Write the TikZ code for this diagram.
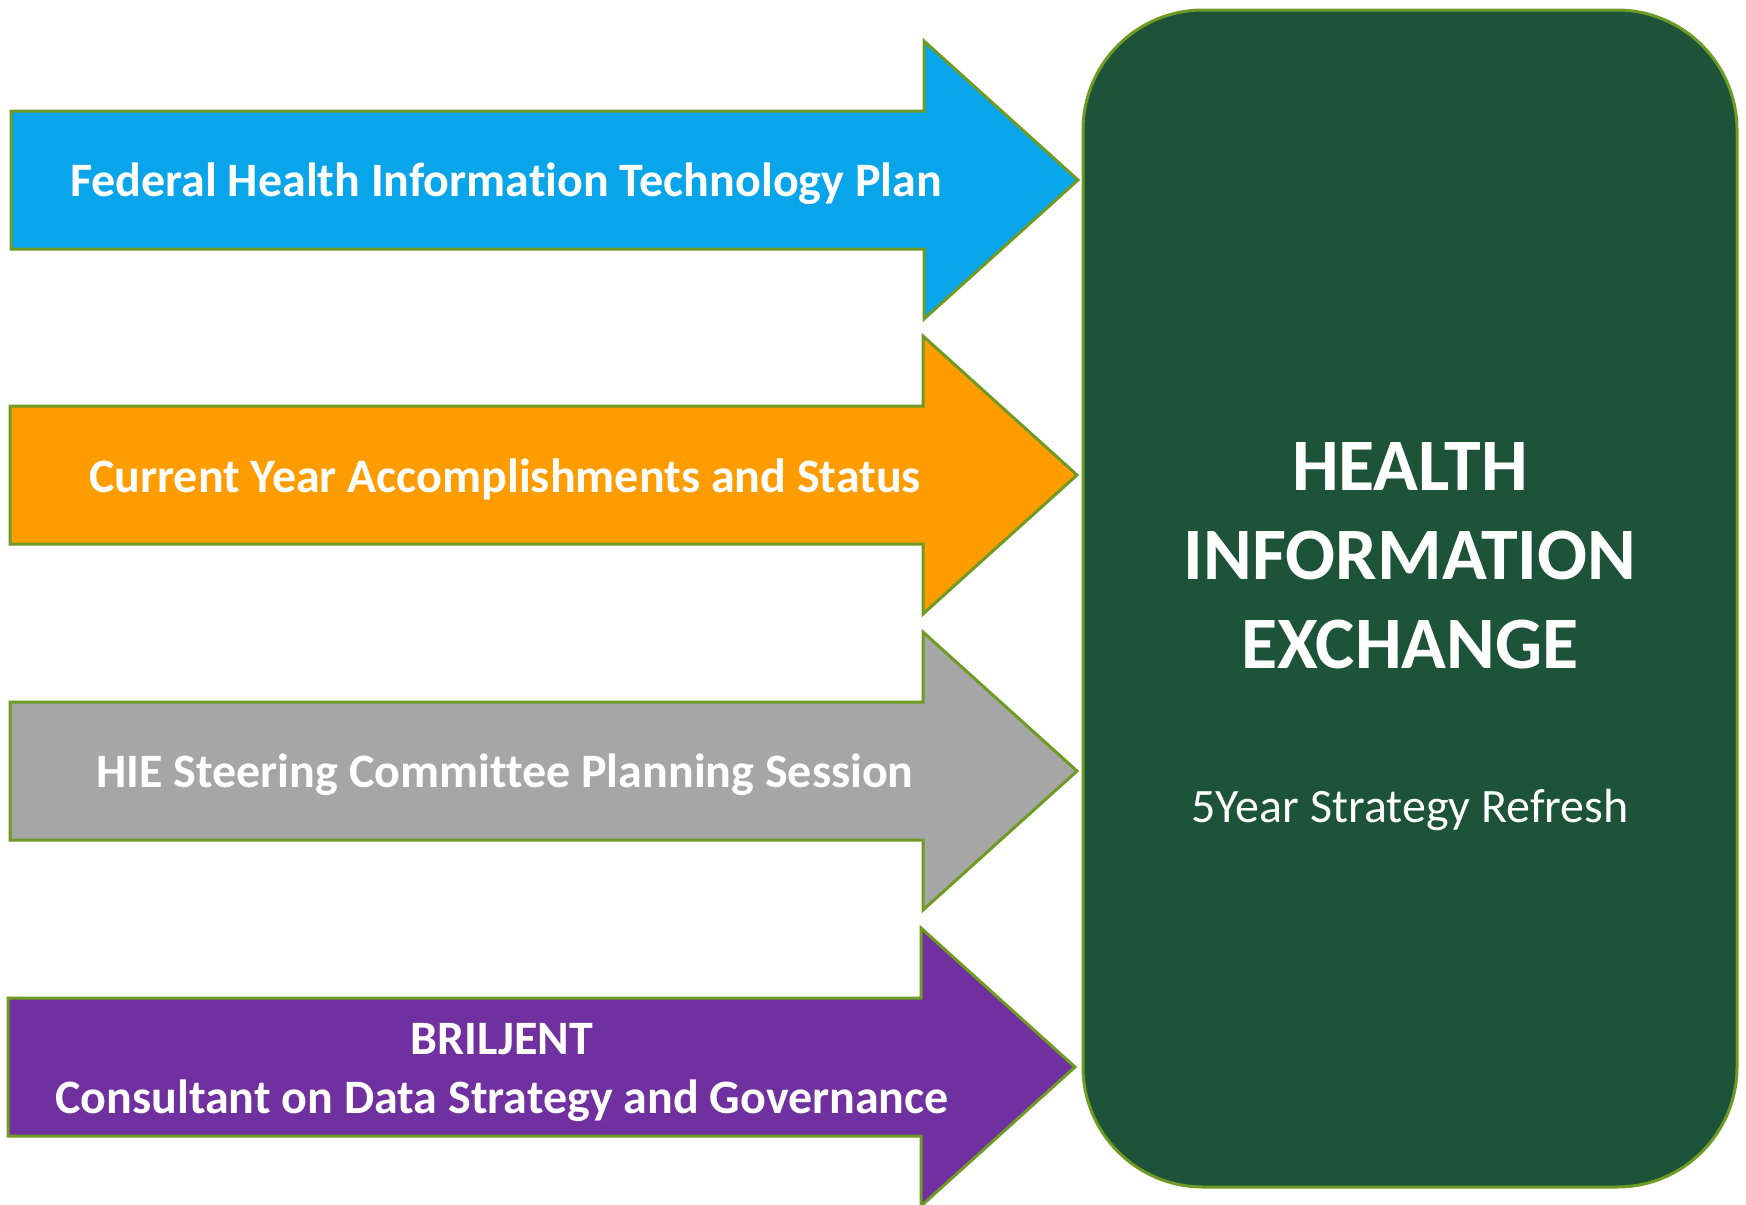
\documentclass[tikz,border=0pt]{standalone}
\usepackage{fontspec}
\setmainfont[Ligatures=NoCommon]{Carlito}
\definecolor{fedblue}{HTML}{09A5EB}
\definecolor{curorange}{HTML}{FF9C00}
\definecolor{hiegrey}{HTML}{A6A6A6}
\definecolor{brpurple}{HTML}{7030A0}
\definecolor{hiegreen}{HTML}{1C5339}
\definecolor{edgeolive}{HTML}{6F9A24}
\tikzset{
  arrowshape/.style={draw=edgeolive, line width=3pt, line join=miter},
  arrowtext/.style={text=white, font=\fontsize{48}{59}\selectfont\bfseries, align=center, inner sep=0pt},
  hiebox/.style={draw=edgeolive, line width=3pt, fill=hiegreen, rounded corners=120pt},
}
\newcommand{\bigarrow}[5]{% #1 fill, #2 centre y, #3 left x, #4 head x, #5 tip x
  \fill[#1] (#3,#2-69) -- (#4,#2-69) -- (#4,#2-139) -- (#5,#2) -- (#4,#2+139) -- (#4,#2+69) -- (#3,#2+69) -- cycle;
  \draw[arrowshape] (#3,#2-69) -- (#4,#2-69) -- (#4,#2-139) -- (#5,#2) -- (#4,#2+139) -- (#4,#2+69) -- (#3,#2+69) -- cycle;
}
\begin{document}
\begin{tikzpicture}[x=1pt,y=-1pt]
\useasboundingbox (0,0) rectangle (1746,1205);
\fill[white] (0,0) rectangle (1746,1205);
\begin{scope}
\clip (0,0) rectangle (1746,1205);
\bigarrow{fedblue}{180}{11}{924}{1078}
\bigarrow{curorange}{475}{10}{923}{1077}
\bigarrow{hiegrey}{771}{10}{923}{1077}
\bigarrow{brpurple}{1067}{8}{921}{1075}
\end{scope}
\draw[hiebox] (1083,10) rectangle (1737,1187);
\node[arrowtext] (t1) at (506,184) {Federal Health Information Technology Plan};
\node[arrowtext] (t2) at (505,479) {Current Year Accomplishments and Status};
\node[arrowtext] (t3) at (505,775) {HIE Steering Committee Planning Session};
\node[arrowtext] (t4) at (502,1072) {BRILJENT\\Consultant on Data Strategy and Governance};
\node[text=white, font=\fontsize{74}{89}\selectfont\bfseries, align=center, inner sep=0pt] (hie) at (1410,556) {HEALTH\\INFORMATION\\EXCHANGE};
\node[text=white, font=\fontsize{48}{58}\selectfont, inner sep=0pt] (sub) at (1410,810) {5Year Strategy Refresh};
\end{tikzpicture}
\end{document}
